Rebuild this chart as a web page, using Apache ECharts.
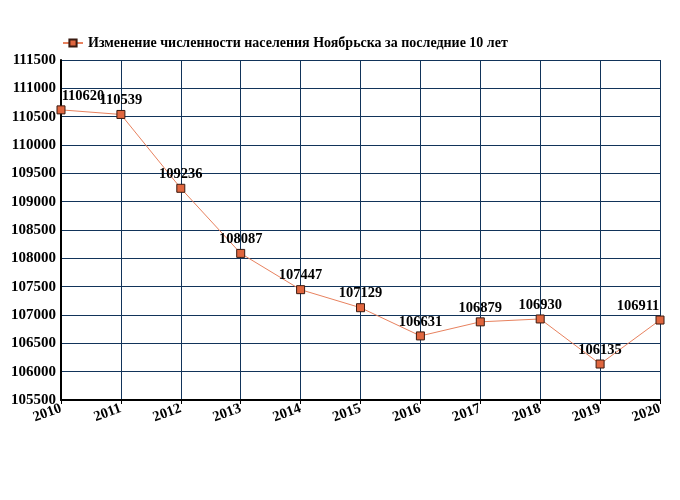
<!DOCTYPE html>
<html><head><meta charset="utf-8">
<script src="https://cdn.jsdelivr.net/npm/echarts@6/dist/echarts.min.js"></script>
<style>html,body{margin:0;padding:0;background:#fff}#c{width:680px;height:500px}</style>
</head><body><div id="c"></div>
<script>
const years = ['2010','2011','2012','2013','2014','2015','2016','2017','2018','2019','2020'];
const population = [110620, 110539, 109236, 108087, 107447, 107129, 106631, 106879, 106930, 106135, 106911];
const seriesName = 'Изменение численности населения Ноябрьска за последние 10 лет';

const labelOffsets = {0: [22, 0], 10: [-22, 0]};
const chart = echarts.init(document.getElementById('c'));
const font = '"Liberation Serif", "DejaVu Serif", serif';
chart.setOption({
  backgroundColor: '#fff',
  animation: false,
  legend: {
    left: 57, top: 31, itemWidth: 20, itemHeight: 9, itemGap: 5,
    textStyle: {fontFamily: font, fontSize: 14, fontWeight: 'bold', color: '#000'},
    data: [seriesName]
  },
  grid: {left: 61, right: 20, top: 60, bottom: 100},
  xAxis: {
    type: 'category', data: years, boundaryGap: false,
    axisLine: {lineStyle: {color: '#000', width: 2}},
    axisTick: {show: true, length: 4, lineStyle: {color: '#000'}},
    axisLabel: {rotate: 20, fontFamily: font, fontSize: 14.5, fontWeight: 'bold', color: '#000', margin: 8},
    splitLine: {show: true, lineStyle: {color: '#12345a', width: 1}}
  },
  yAxis: {
    type: 'value', min: 105500, max: 111500, interval: 500,
    axisLine: {show: true, lineStyle: {color: '#000', width: 2}},
    axisTick: {show: false},
    axisLabel: {formatter: v => String(v), fontFamily: font, fontSize: 15, fontWeight: 'bold', color: '#000', margin: 5},
    splitLine: {show: true, lineStyle: {color: '#12345a', width: 1}}
  },
  series: [{
    name: seriesName, type: 'line', data: population.map((v, i) => ({
      value: v,
      label: labelOffsets[i] ? {offset: labelOffsets[i]} : undefined
    })),
    symbol: 'rect', symbolSize: 8,
    lineStyle: {color: '#e8825f', width: 1},
    itemStyle: {color: '#e0663f', borderColor: '#3a1a10', borderWidth: 1},
    label: {show: true, position: 'top', distance: 2, fontFamily: font, fontSize: 14.5, fontWeight: 'bold', color: '#000'}
  }]
});
</script></body></html>
